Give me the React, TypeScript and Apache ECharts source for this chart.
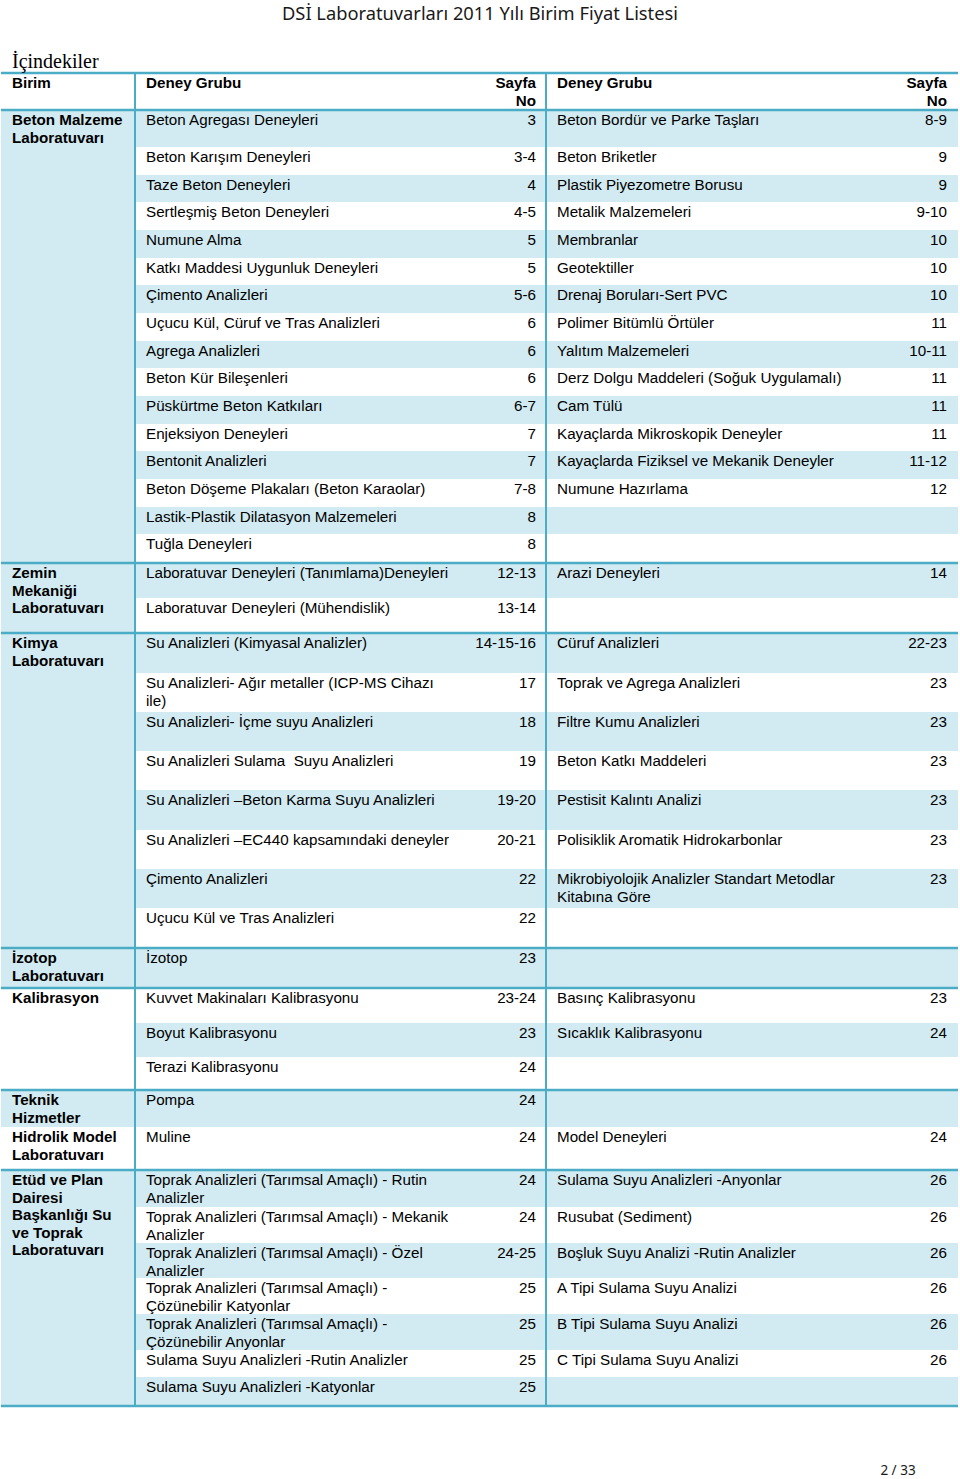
import React, { useEffect, useRef } from "react";
import * as echarts from "echarts";

// ---------------- DATA ----------------
const title = "DSİ Laboratuvarları 2011 Yılı Birim Fiyat Listesi";
const subtitle = "İçindekiler";
const pageLabel = "2 / 33";
const headers = ["Birim", "Deney Grubu", "Sayfa\nNo", "Deney Grubu", "Sayfa\nNo"];

const birimler = [
  "Beton Malzeme\nLaboratuvarı",
  "Zemin\nMekaniği\nLaboratuvarı",
  "Kimya\nLaboratuvarı",
  "İzotop\nLaboratuvarı",
  "Kalibrasyon",
  "Teknik\nHizmetler",
  "Hidrolik Model\nLaboratuvarı",
  "Etüd ve Plan\nDairesi\nBaşkanlığı Su\nve Toprak\nLaboratuvarı",
];

// birim index of each row
const satirBirim = [
  0, 0, 0, 0, 0, 0, 0, 0, 0, 0, 0, 0, 0, 0, 0, 0,
  1, 1,
  2, 2, 2, 2, 2, 2, 2, 2,
  3,
  4, 4, 4,
  5,
  6,
  7, 7, 7, 7, 7, 7, 7,
];

const deneyGrubuSol = [
  "Beton Agregası Deneyleri",
  "Beton Karışım Deneyleri",
  "Taze Beton Deneyleri",
  "Sertleşmiş Beton Deneyleri",
  "Numune Alma",
  "Katkı Maddesi Uygunluk Deneyleri",
  "Çimento Analizleri",
  "Uçucu Kül, Cüruf ve Tras Analizleri",
  "Agrega Analizleri",
  "Beton Kür Bileşenleri",
  "Püskürtme Beton Katkıları",
  "Enjeksiyon Deneyleri",
  "Bentonit Analizleri",
  "Beton Döşeme Plakaları (Beton Karaolar)",
  "Lastik-Plastik Dilatasyon Malzemeleri",
  "Tuğla Deneyleri",
  "Laboratuvar Deneyleri (Tanımlama)Deneyleri",
  "Laboratuvar Deneyleri (Mühendislik)",
  "Su Analizleri (Kimyasal Analizler)",
  "Su Analizleri- Ağır metaller (ICP-MS Cihazı\nile)",
  "Su Analizleri- İçme suyu Analizleri",
  "Su Analizleri Sulama  Suyu Analizleri",
  "Su Analizleri –Beton Karma Suyu Analizleri",
  "Su Analizleri –EC440 kapsamındaki deneyler",
  "Çimento Analizleri",
  "Uçucu Kül ve Tras Analizleri",
  "İzotop",
  "Kuvvet Makinaları Kalibrasyonu",
  "Boyut Kalibrasyonu",
  "Terazi Kalibrasyonu",
  "Pompa",
  "Muline",
  "Toprak Analizleri (Tarımsal Amaçlı) - Rutin\nAnalizler",
  "Toprak Analizleri (Tarımsal Amaçlı) - Mekanik\nAnalizler",
  "Toprak Analizleri (Tarımsal Amaçlı) - Özel\nAnalizler",
  "Toprak Analizleri (Tarımsal Amaçlı) -\nÇözünebilir Katyonlar",
  "Toprak Analizleri (Tarımsal Amaçlı) -\nÇözünebilir Anyonlar",
  "Sulama Suyu Analizleri -Rutin Analizler",
  "Sulama Suyu Analizleri -Katyonlar",
];

const sayfaSol = [
  "3", "3-4", "4", "4-5", "5", "5", "5-6", "6", "6", "6", "6-7", "7", "7", "7-8", "8", "8",
  "12-13", "13-14",
  "14-15-16", "17", "18", "19", "19-20", "20-21", "22", "22",
  "23",
  "23-24", "23", "24",
  "24",
  "24",
  "24", "24", "24-25", "25", "25", "25", "25",
];

const deneyGrubuSag = [
  "Beton Bordür ve Parke Taşları",
  "Beton Briketler",
  "Plastik Piyezometre Borusu",
  "Metalik Malzemeleri",
  "Membranlar",
  "Geotektiller",
  "Drenaj Boruları-Sert PVC",
  "Polimer Bitümlü Örtüler",
  "Yalıtım Malzemeleri",
  "Derz Dolgu Maddeleri (Soğuk Uygulamalı)",
  "Cam Tülü",
  "Kayaçlarda Mikroskopik Deneyler",
  "Kayaçlarda Fiziksel ve Mekanik Deneyler",
  "Numune Hazırlama",
  "",
  "",
  "Arazi Deneyleri",
  "",
  "Cüruf Analizleri",
  "Toprak ve Agrega Analizleri",
  "Filtre Kumu Analizleri",
  "Beton Katkı Maddeleri",
  "Pestisit Kalıntı Analizi",
  "Polisiklik Aromatik Hidrokarbonlar",
  "Mikrobiyolojik Analizler Standart Metodlar\nKitabına Göre",
  "",
  "",
  "Basınç Kalibrasyonu",
  "Sıcaklık Kalibrasyonu",
  "",
  "",
  "Model Deneyleri",
  "Sulama Suyu Analizleri -Anyonlar",
  "Rusubat (Sediment)",
  "Boşluk Suyu Analizi -Rutin Analizler",
  "A Tipi Sulama Suyu Analizi",
  "B Tipi Sulama Suyu Analizi",
  "C Tipi Sulama Suyu Analizi",
  "",
];

const sayfaSag = [
  "8-9", "9", "9", "9-10", "10", "10", "10", "11", "10-11", "11", "11", "11", "11-12", "12", "", "",
  "14", "",
  "22-23", "23", "23", "23", "23", "23", "23", "",
  "",
  "23", "24", "",
  "",
  "24",
  "26", "26", "26", "26", "26", "26", "",
];

// ---------------- LAYOUT ----------------
const W = 960;
const H = 1479;
const TABLE_TOP = 73;
const HEADER_H = 37;
const satirYukseklik = [
  37, 28, 27, 28, 28, 27, 28, 28, 27, 28, 28, 27, 28, 28, 27, 29,
  35, 35,
  40, 39, 39, 39, 40, 39, 39, 40,
  40,
  35, 34, 33,
  37,
  43,
  37, 36, 35, 36, 36, 27, 29,
];
// units that do not get a separator line above them
const noLineAbove = [6];
const X_LEFT = 1;
const X_RIGHT = 958;
const X_COL1 = 135;
const X_COL2 = 546;
const PAD = 11;
const LINE_COLOR = "#4BACC6";
const BAND_COLOR = "#D2EAF1";
const FONT = '"Liberation Sans", Arial, sans-serif';
const FS = 15.2;
const LH = 17.5;

function buildGraphics() {
  const els: any[] = [];
  const tops: number[] = [];
  let y = TABLE_TOP + HEADER_H;
  for (let i = 0; i < satirYukseklik.length; i++) {
    tops.push(y);
    y += satirYukseklik[i];
  }
  const tableBottom = y;

  // row bands
  for (let i = 0; i < tops.length; i++) {
    if (i % 2 === 0) {
      els.push({
        type: "rect",
        shape: { x: X_COL1, y: tops[i], width: X_RIGHT - X_COL1, height: satirYukseklik[i] },
        style: { fill: BAND_COLOR },
        silent: true,
      });
    }
  }

  // unit cells
  const unitTops: number[] = [];
  for (let u = 0; u < birimler.length; u++) {
    const rows = satirBirim.map((b, i) => (b === u ? i : -1)).filter((i) => i >= 0);
    const first = rows[0];
    const last = rows[rows.length - 1];
    const top = tops[first];
    const bottom = tops[last] + satirYukseklik[last];
    unitTops.push(top);
    if (first % 2 === 0) {
      els.push({
        type: "rect",
        shape: { x: X_LEFT, y: top, width: X_COL1 - X_LEFT, height: bottom - top },
        style: { fill: BAND_COLOR },
        silent: true,
      });
    }
    els.push({
      type: "text",
      x: PAD + 1,
      y: top + 1,
      style: {
        text: birimler[u],
        fill: "#000",
        fontFamily: FONT,
        fontSize: FS,
        fontWeight: "bold",
        lineHeight: LH,
        align: "left",
        verticalAlign: "top",
      },
    });
  }

  // row texts
  for (let i = 0; i < tops.length; i++) {
    const ty = tops[i] + 1;
    const base = { fill: "#000", fontFamily: FONT, fontSize: FS, lineHeight: LH, verticalAlign: "top" };
    if (deneyGrubuSol[i]) {
      els.push({ type: "text", x: X_COL1 + PAD, y: ty, style: { ...base, text: deneyGrubuSol[i], align: "left" } });
    }
    if (sayfaSol[i]) {
      els.push({ type: "text", x: X_COL2 - 10, y: ty, style: { ...base, text: sayfaSol[i], align: "right" } });
    }
    if (deneyGrubuSag[i]) {
      els.push({ type: "text", x: X_COL2 + PAD, y: ty, style: { ...base, text: deneyGrubuSag[i], align: "left" } });
    }
    if (sayfaSag[i]) {
      els.push({ type: "text", x: X_RIGHT - 11, y: ty, style: { ...base, text: sayfaSag[i], align: "right" } });
    }
  }

  // header texts
  const hy = TABLE_TOP + 1;
  const hb = { fill: "#000", fontFamily: FONT, fontSize: FS, fontWeight: "bold", lineHeight: LH, verticalAlign: "top" };
  els.push({ type: "text", x: PAD + 1, y: hy, style: { ...hb, text: headers[0], align: "left" } });
  els.push({ type: "text", x: X_COL1 + PAD, y: hy, style: { ...hb, text: headers[1], align: "left" } });
  els.push({ type: "text", x: X_COL2 - 10, y: hy, style: { ...hb, text: headers[2], align: "right" } });
  els.push({ type: "text", x: X_COL2 + PAD, y: hy, style: { ...hb, text: headers[3], align: "left" } });
  els.push({ type: "text", x: X_RIGHT - 11, y: hy, style: { ...hb, text: headers[4], align: "right" } });

  // horizontal lines
  const hLines = [TABLE_TOP, TABLE_TOP + HEADER_H, tableBottom];
  unitTops.forEach((t, u) => {
    if (u > 0 && noLineAbove.indexOf(u) < 0) hLines.push(t);
  });
  hLines.forEach((ly) => {
    els.push({
      type: "line",
      shape: { x1: X_LEFT, y1: ly, x2: X_RIGHT, y2: ly },
      style: { stroke: LINE_COLOR, lineWidth: 2.5 },
      silent: true,
    });
  });
  // vertical lines
  [X_COL1, X_COL2].forEach((lx) => {
    els.push({
      type: "line",
      shape: { x1: lx, y1: TABLE_TOP, x2: lx, y2: tableBottom },
      style: { stroke: LINE_COLOR, lineWidth: 2 },
      silent: true,
    });
  });

  // title, subtitle, page label
  els.push({
    type: "text",
    x: W / 2,
    y: 12,
    style: {
      text: title,
      fill: "#1a1a1a",
      fontFamily: '"Noto Sans", "Open Sans", sans-serif',
      fontSize: 18.3,
      align: "center",
      verticalAlign: "middle",
    },
  });
  els.push({
    type: "text",
    x: 12,
    y: 61,
    style: {
      text: subtitle,
      fill: "#000",
      fontFamily: '"Liberation Serif", "DejaVu Serif", serif',
      fontSize: 20,
      align: "left",
      verticalAlign: "middle",
    },
  });
  els.push({
    type: "text",
    x: 898,
    y: 1470,
    style: {
      text: pageLabel,
      fill: "#1a1a1a",
      fontFamily: '"Noto Sans", sans-serif',
      fontSize: 13.5,
      align: "center",
      verticalAlign: "middle",
    },
  });
  return els;
}

export default function App() {
  const ref = useRef<HTMLDivElement>(null);
  useEffect(() => {
    document.body.style.margin = "0";
    const chart = echarts.init(ref.current!, null, { renderer: "svg" });
    chart.setOption({
      animation: false,
      backgroundColor: "#ffffff",
      graphic: { elements: buildGraphics() },
    });
    return () => chart.dispose();
  }, []);
  return <div ref={ref} style={{ width: W, height: H }} />;
}
